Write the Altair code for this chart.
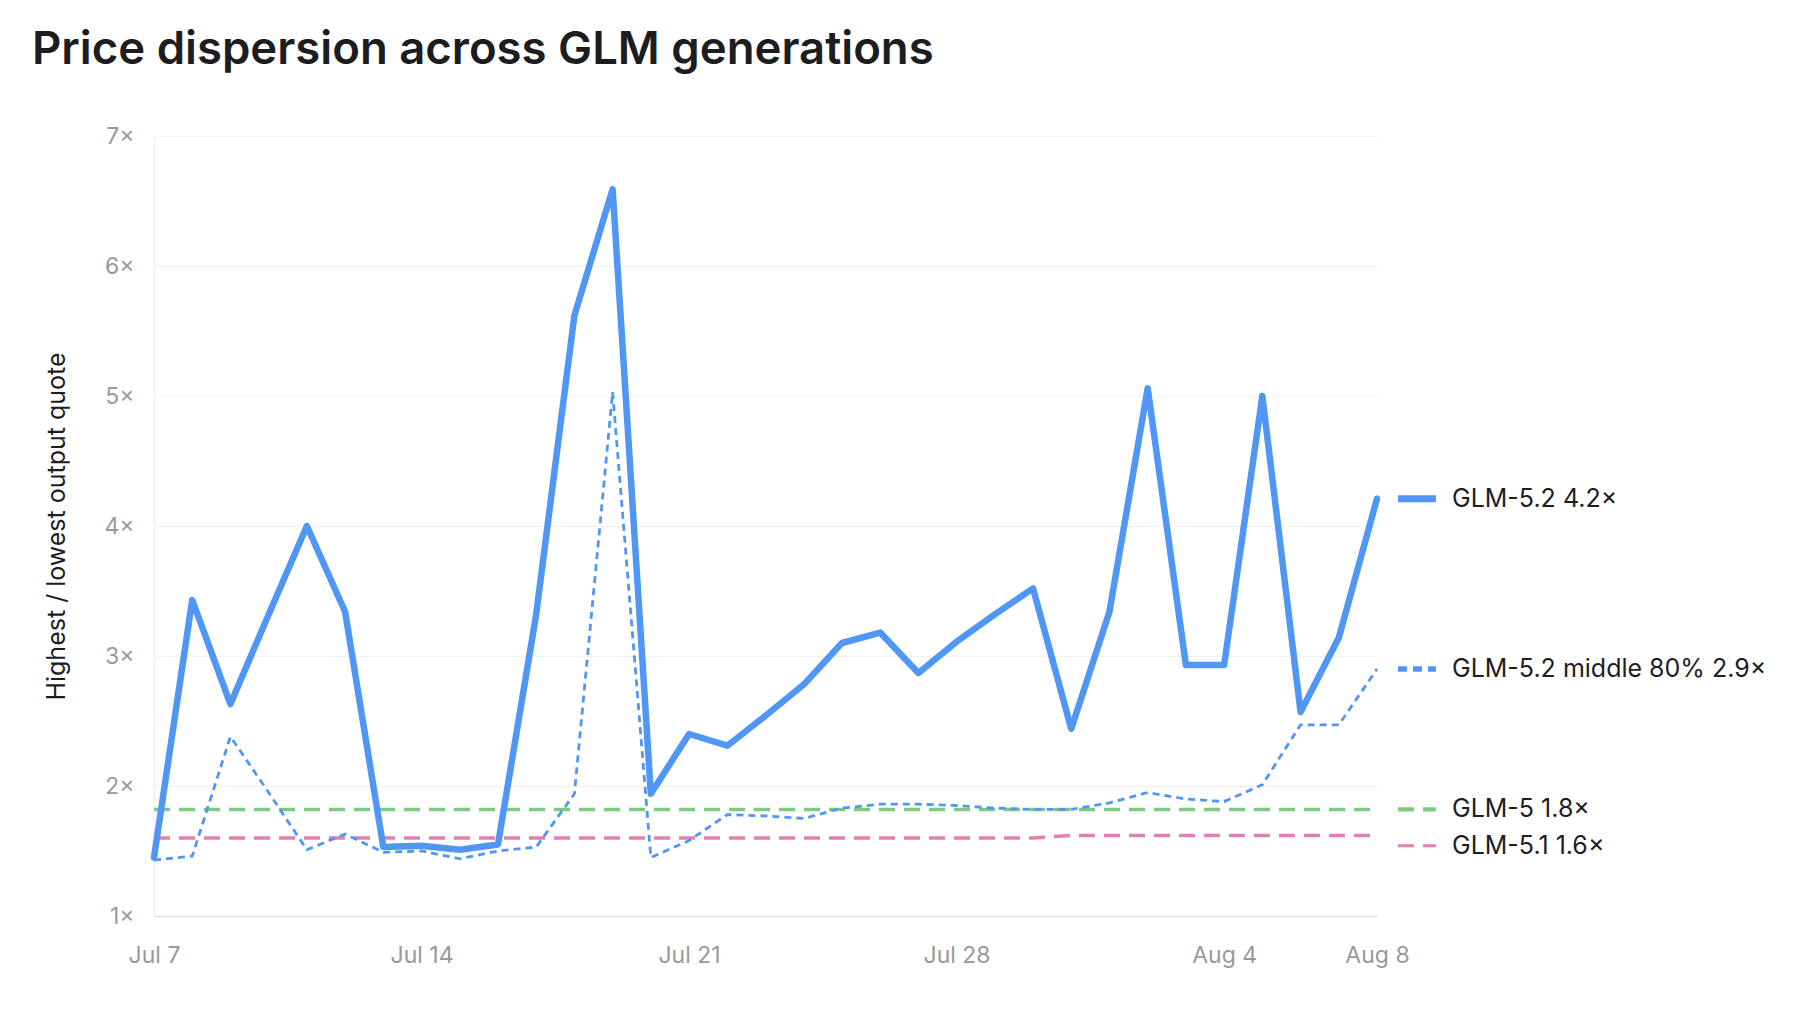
import altair as alt
import pandas as pd

# ---------------- data ----------------
dates = [d.strftime("%Y-%m-%d") for d in pd.date_range("2025-07-07", "2025-08-08", freq="D")]

glm52 = [1.45, 3.43, 2.63, 3.32, 4.00, 3.34, 1.53, 1.54, 1.51, 1.55, 3.32, 5.62, 6.59,
         1.94, 2.40, 2.31, 2.54, 2.78, 3.10, 3.18, 2.87, 3.11, 3.32, 3.52, 2.44, 3.34,
         5.06, 2.93, 2.93, 5.00, 2.57, 3.14, 4.21]
glm52_mid = [1.43, 1.46, 2.38, 1.95, 1.51, 1.63, 1.49, 1.50, 1.44, 1.50, 1.53, 1.94, 5.03,
             1.45, 1.58, 1.78, 1.77, 1.75, 1.83, 1.86, 1.86, 1.85, 1.83, 1.82, 1.82, 1.87,
             1.95, 1.90, 1.88, 2.01, 2.47, 2.47, 2.90]
glm5 = [1.82, 1.82, 1.82, 1.82, 1.82, 1.82, 1.82, 1.82, 1.82, 1.82, 1.82, 1.82, 1.82,
        1.82, 1.82, 1.82, 1.82, 1.82, 1.82, 1.82, 1.82, 1.82, 1.82, 1.82, 1.82, 1.82,
        1.82, 1.82, 1.82, 1.82, 1.82, 1.82, 1.82]
glm51 = [1.60, 1.60, 1.60, 1.60, 1.60, 1.60, 1.60, 1.60, 1.60, 1.60, 1.60, 1.60, 1.60,
         1.60, 1.60, 1.60, 1.60, 1.60, 1.60, 1.60, 1.60, 1.60, 1.60, 1.60, 1.62, 1.62,
         1.62, 1.62, 1.62, 1.62, 1.62, 1.62, 1.62]

label_names = ["GLM-5.2 4.2×", "GLM-5.2 middle 80% 2.9×", "GLM-5 1.8×", "GLM-5.1 1.6×"]
label_y = [4.21, 2.90, 1.82, 1.54]
label_colors = ["#5097f5", "#5097f5", "#7ccb7f", "#e27fb4"]
label_dash = [[1, 0], [9, 6], [16, 9], [16, 9]]
label_width = [7, 3, 3.5, 3.5]

x_ticks = [(7, 7), (7, 14), (7, 21), (7, 28), (8, 4), (8, 8)]
y_ticks = [1, 2, 3, 4, 5, 6, 7]

TITLE = "Price dispersion across GLM generations"
Y_TITLE = "Highest / lowest output quote"

W, H = 1223, 780
FONT = "Inter"

# ---------------- encodings ----------------
def dt(m, d):
    return alt.DateTime(year=2025, month=m, date=d, utc=True)

x_enc = alt.X(
    "date:T",
    scale=alt.Scale(type="utc", domain=[dt(7, 7), dt(8, 8)], nice=False),
    axis=alt.Axis(
        values=[dt(m, d) for m, d in x_ticks],
        format="%b %-d",
        title=None,
        grid=False,
        ticks=False,
        domainColor="#dddddd",
        domainWidth=1.5,
        labelColor="#999999",
        labelFont=FONT,
        labelFontSize=23,
        labelPadding=28,
        labelFlush=False,
    ),
)

y_enc = alt.Y(
    "value:Q",
    scale=alt.Scale(domain=[1, 7], nice=False, zero=False),
    axis=alt.Axis(
        values=y_ticks,
        labelExpr="datum.value + '×'",
        title=Y_TITLE,
        titleFont=FONT,
        titleFontSize=25,
        titleFontWeight="normal",
        titleColor="#1d1d1f",
        titleX=-98,
        titleY=H / 2,
        titleAlign="center",
        titleBaseline="middle",
        grid=True,
        gridColor="#f1f1f1",
        gridWidth=1.2,
        ticks=False,
        domainColor="#eeeeee",
        domainWidth=1.5,
        labelColor="#999999",
        labelFont=FONT,
        labelFontSize=23,
        labelPadding=20,
    ),
)


def series_df(vals):
    return pd.DataFrame({"date": dates, "value": vals})


pink = alt.Chart(series_df(glm51)).mark_line(
    color="#e27fb4", strokeWidth=3.5, strokeDash=[16, 9]
).encode(x=x_enc, y=y_enc)

green = alt.Chart(series_df(glm5)).mark_line(
    color="#7ccb7f", strokeWidth=3.5, strokeDash=[16, 9]
).encode(x=x_enc, y=y_enc)

mid = alt.Chart(series_df(glm52_mid)).mark_line(
    color="#5097f5", strokeWidth=2.8, strokeDash=[7, 5]
).encode(x=x_enc, y=y_enc)

main = alt.Chart(series_df(glm52)).mark_line(
    color="#5097f5", strokeWidth=6.5, strokeJoin="round", strokeCap="round"
).encode(x=x_enc, y=y_enc)

lab_df = pd.DataFrame({
    "date": [dates[-1]] * len(label_names),
    "value": label_y,
    "name": label_names,
})

lab_rule = alt.Chart(lab_df).mark_rule(xOffset=21, x2Offset=59).encode(
    x=x_enc,
    x2=alt.X2("date:T"),
    y=y_enc,
    color=alt.Color("name:N", scale=alt.Scale(domain=label_names, range=label_colors), legend=None),
    strokeDash=alt.StrokeDash("name:N", scale=alt.Scale(domain=label_names, range=label_dash), legend=None),
    strokeWidth=alt.StrokeWidth("name:N", scale=alt.Scale(domain=label_names, range=label_width), legend=None),
)

lab_text = alt.Chart(lab_df).mark_text(
    align="left", baseline="middle", dx=75, font=FONT, fontSize=25, color="#1d1d1f"
).encode(x=x_enc, y=y_enc, text="name:N")

chart = alt.layer(pink, green, mid, main, lab_rule, lab_text).properties(
    width=W,
    height=H,
    background="white",
    title=alt.TitleParams(
        TITLE,
        anchor="start",
        frame="group",
        font=FONT,
        fontSize=45.5,
        fontWeight=600,
        color="#1d1d1f",
        dx=-122,
        offset=16,
        baseline="alphabetic",
    ),
    autosize=alt.AutoSizeParams(type="none"),
    padding={"left": 146, "top": 128, "right": 420, "bottom": 70},
).configure_view(strokeWidth=2, stroke="#ffffff")

chart.save("out.html", embed_options={"renderer": "svg", "actions": False})
